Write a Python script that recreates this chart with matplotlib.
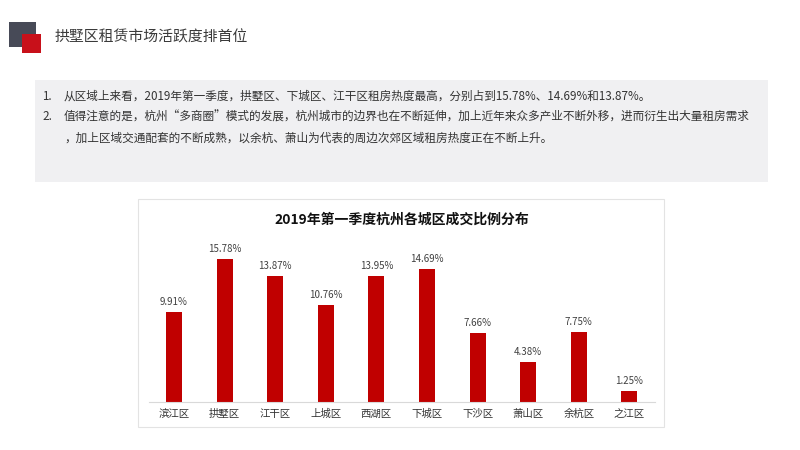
import matplotlib
matplotlib.use("Agg")
import matplotlib.pyplot as plt
from matplotlib.patches import Rectangle

plt.rcParams['font.family'] = ['Noto Sans CJK SC', 'DejaVu Sans']

# data
districts = ['滨江区', '拱墅区', '江干区', '上城区', '西湖区',
             '下城区', '下沙区', '萧山区', '余杭区', '之江区']
shares = [9.91, 15.78, 13.87, 10.76, 13.95, 14.69, 7.66, 4.38, 7.75, 1.25]
share_labels = ['9.91%', '15.78%', '13.87%', '10.76%', '13.95%',
                '14.69%', '7.66%', '4.38%', '7.75%', '1.25%']

page_title = '拱墅区租赁市场活跃度排首位'
chart_title = '2019年第一季度杭州各城区成交比例分布'
notes = [
    ('1.', '从区域上来看，2019年第一季度，拱墅区、下城区、江干区租房热度最高，分别占到15.78%、14.69%和13.87%。'),
    ('2.', '值得注意的是，杭州“多商圈”模式的发展，杭州城市的边界也在不断延伸，加上近年来众多产业不断外移，进而衍生出大量租房需求'),
    ('', '，加上区域交通配套的不断成熟，以余杭、萧山为代表的周边次郊区域租房热度正在不断上升。'),
]

W, H = 800, 450
fig = plt.figure(figsize=(8, 4.5), dpi=100)
fig.patch.set_facecolor('white')

def px(x, y):
    # pixel coords (top-left origin) -> figure fraction
    return x / W, 1 - y / H

# header squares + title
fig.patches.append(Rectangle(px(9, 47), 27 / W, 25 / H, transform=fig.transFigure,
                             facecolor='#474a57', edgecolor='none'))
fig.patches.append(Rectangle(px(22, 53), 19 / W, 19 / H, transform=fig.transFigure,
                             facecolor='#c8101a', edgecolor='none'))
fig.text(*px(55, 37), page_title, fontsize=10.7, color='#3a3a3a', va='center', ha='left')

# gray note box
fig.patches.append(Rectangle(px(35, 182), 733 / W, 102 / H, transform=fig.transFigure,
                             facecolor='#f0f0f2', edgecolor='none'))
ys = [96, 117, 138]
for (num, txt), y in zip(notes, ys):
    if num:
        fig.text(*px(42, y), num, fontsize=8.4, color='#333333', va='center')
    fig.text(*px(64, y), txt, fontsize=8.4, color='#333333', va='center')

# chart frame
fig.patches.append(Rectangle(px(138, 427), 526 / W, 228 / H, transform=fig.transFigure,
                             facecolor='white', edgecolor='#e3e3e3', linewidth=0.8))
fig.text(*px(402, 220), chart_title, fontsize=10, fontweight='bold',
         color='#111111', ha='center', va='center')

ax = fig.add_axes([148.7 / W, (H - 402) / H, 506 / W, 172 / H])
ax.set_zorder(5)
ax.set_facecolor('none')
x = range(len(districts))
ax.bar(x, shares, width=0.32, color='#c00000')
for xi, v, lab in zip(x, shares, share_labels):
    ax.text(xi, v + 0.55, lab, ha='center', va='bottom', fontsize=7, color='#404040')
ax.set_xlim(-0.5, len(districts) - 0.5)
ax.set_ylim(0, 19)
ax.set_xticks(list(x))
ax.set_xticklabels(districts, fontsize=7.5, color='#333333')
ax.tick_params(axis='x', length=0, pad=5)
ax.set_yticks([])
for s in ['top', 'right', 'left']:
    ax.spines[s].set_visible(False)
ax.spines['bottom'].set_color('#d9d9d9')
ax.spines['bottom'].set_linewidth(0.8)

fig.savefig('out.png', dpi=100)
